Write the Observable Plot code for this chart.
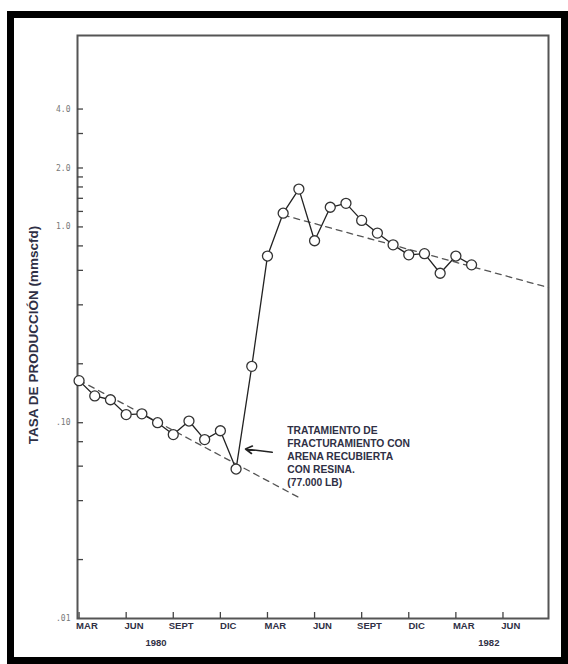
<!DOCTYPE html>
<html><head><meta charset="utf-8">
<script src="https://cdn.jsdelivr.net/npm/d3@7"></script>
<script src="https://cdn.jsdelivr.net/npm/@observablehq/plot@0.6"></script>
<style>
body{margin:0;background:#fff;}
#wrap{position:relative;width:568px;height:664px;overflow:hidden;background:#fff;}
#border{position:absolute;left:7px;top:11px;width:561px;height:653px;border:7px solid #000;box-sizing:border-box;pointer-events:none;}
</style></head><body><div id="wrap"><div id="chart"></div><div id="border"></div></div>
<script>
// Monthly production rate, month 0 = MAR 1980
const production = [0.164,0.137,0.131,0.110,0.111,0.100,0.087,0.102,0.082,0.091,0.058,
  0.194,0.71,1.175,1.56,0.85,1.26,1.32,1.08,0.93,0.81,0.72,0.73,0.58,0.71,0.64];
const trendBeforeMonths = [0, 14];
const trendBeforeRates = [0.165, 0.0415];
const trendAfterMonths = [13, 29.9];
const trendAfterRates = [1.15, 0.49];
const monthTicks = [0,3,6,9,12,15,18,21,24,27];
const monthLabels = ["MAR","JUN","SEPT","DIC","MAR","JUN","SEPT","DIC","MAR","JUN"];
const yearLabels = ["1980","1982"];
const yearMonths = [4.9, 26.1];
const yTicks = [0.02,0.04,0.06,0.08,0.1,0.2,0.4,0.6,0.8,1,1.2,1.4,1.6,1.8,2,3,4];
const yLabelValues = [0.01,0.1,1,2,4];
const yLabelTexts = [".01",".10","1.0","2.0","4.0"];
const yTitle = "TASA DE PRODUCCIÓN (mmscfd)";
const noteText = "TRATAMIENTO DE\nFRACTURAMIENTO CON\nARENA RECUBIERTA\nCON RESINA.\n(77.000 LB)";
const notePos = {month: 13.26, rate: 0.0975};
const arrowPos = {month1: 12.3, rate1: 0.0706, month2: 10.6, rate2: 0.0734};

const W = 568, H = 664, ML = 77, MR = 20, MT = 35, MB = 46, TICK = 6;
const data = production.map((v, i) => ({month: i, rate: v}));
const trendBefore = trendBeforeMonths.map((m, i) => ({month: m, rate: trendBeforeRates[i]}));
const trendAfter = trendAfterMonths.map((m, i) => ({month: m, rate: trendAfterRates[i]}));
const years = yearLabels.map((t, i) => ({label: t, month: yearMonths[i]}));
const yLabels = yLabelValues.map((v, i) => ({rate: v, label: yLabelTexts[i]}));
const monthLabelData = monthTicks.map((m, i) => ({month: m + 0.5, label: monthLabels[i]}));
const textColor = "#2f3045";

const chart = Plot.plot({
  width: W,
  height: H,
  marginLeft: ML,
  marginRight: MR,
  marginTop: MT,
  marginBottom: MB,
  style: {fontFamily: "'Liberation Sans', Arial, sans-serif", background: "transparent"},
  x: {domain: [-0.1, 29.9], axis: null},
  y: {type: "log", domain: [0.01, 9.5], axis: null},
  marks: [
    Plot.frame({stroke: "#555", strokeWidth: 2}),
    Plot.tickY(yTicks, {y: d => d, stroke: "#444", strokeWidth: 1.3, insetRight: W - ML - MR - TICK}),
    Plot.tickX(monthTicks, {x: d => d, stroke: "#444", strokeWidth: 1.3, insetTop: H - MT - MB - TICK}),
    Plot.text(yLabels, {y: "rate", text: "label", frameAnchor: "left", dx: -7, textAnchor: "end",
      fontSize: 8, fill: "#777", fontFamily: "'DejaVu Sans Mono', monospace", letterSpacing: 0.5}),
    Plot.text(monthLabelData, {x: "month", text: "label", frameAnchor: "bottom", dy: 10,
      fontSize: 9.5, fontWeight: "bold", fill: textColor}),
    Plot.text(years, {x: "month", text: "label", frameAnchor: "bottom", dy: 27,
      fontSize: 9.5, fontWeight: "bold", fill: textColor}),
    Plot.text([yTitle], {frameAnchor: "left", textAnchor: "middle", rotate: -90, dx: -44, dy: 8,
      fontSize: 13.5, fontWeight: "bold", fill: textColor}),
    Plot.line(trendBefore, {x: "month", y: "rate", stroke: "#555", strokeWidth: 1.3, strokeDasharray: "6,5"}),
    Plot.line(trendAfter, {x: "month", y: "rate", stroke: "#555", strokeWidth: 1.3, strokeDasharray: "6,5"}),
    Plot.line(data, {x: "month", y: "rate", stroke: "#222", strokeWidth: 1.3}),
    Plot.dot(data, {x: "month", y: "rate", r: 5, fill: "white", stroke: "#333", strokeWidth: 1.3}),
    Plot.arrow([arrowPos], {x1: "month1", y1: "rate1", x2: "month2", y2: "rate2",
      stroke: "#222", strokeWidth: 1.6, headLength: 7}),
    Plot.text([noteText], {x: () => notePos.month, y: () => notePos.rate, text: d => d,
      textAnchor: "start", lineAnchor: "top", lineHeight: 1.25,
      fontSize: 10.3, fontWeight: "bold", fill: textColor})
  ]
});
document.getElementById("chart").appendChild(chart);
</script>
</body></html>
